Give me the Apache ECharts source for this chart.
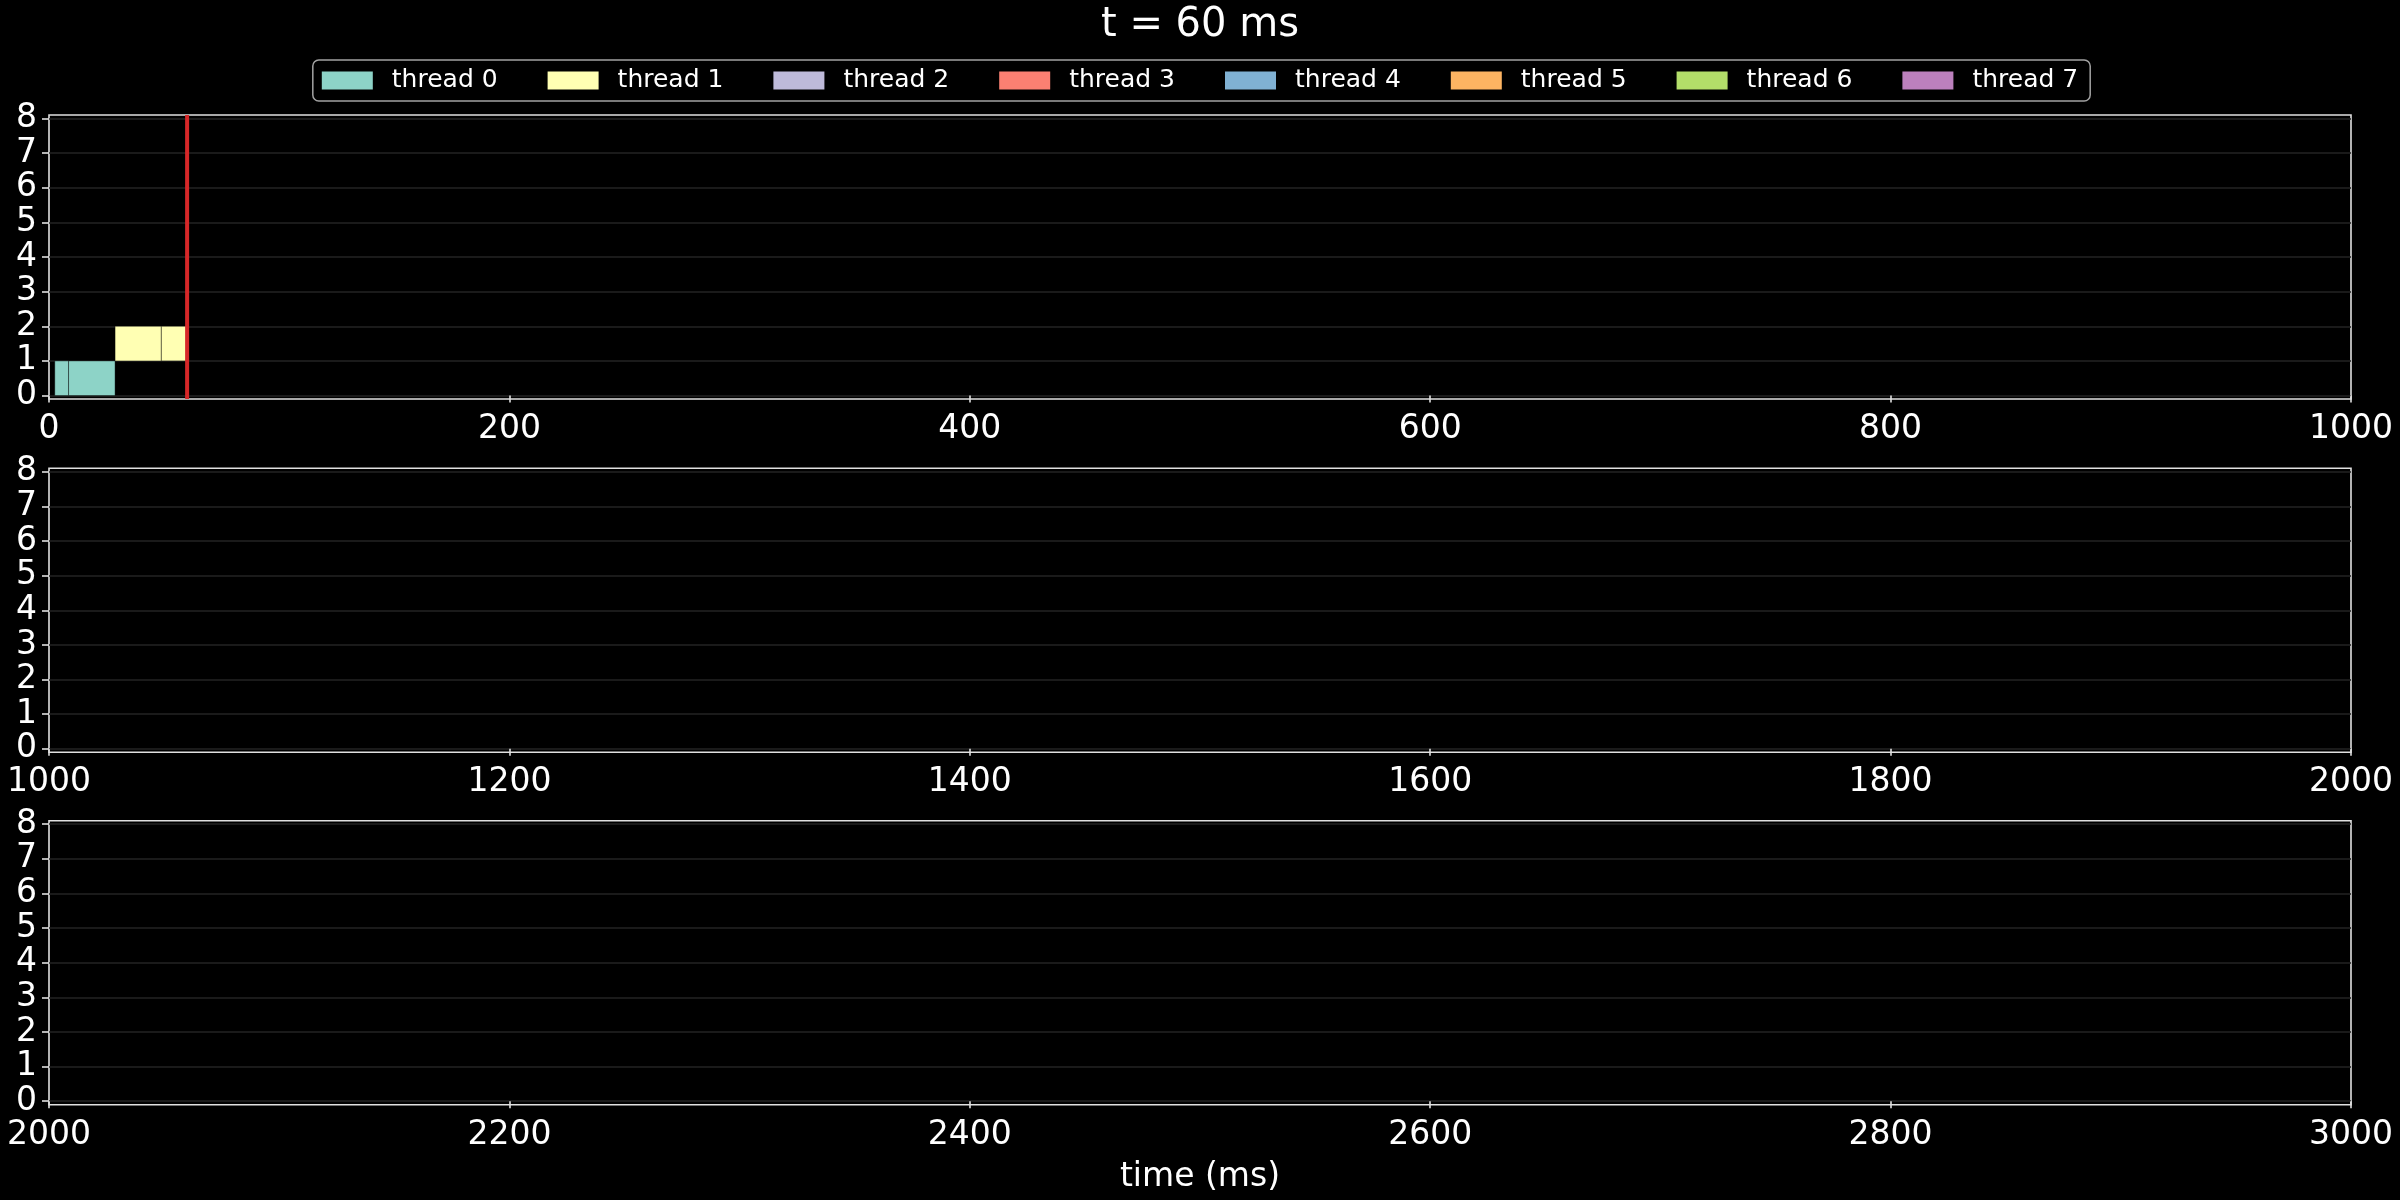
<!DOCTYPE html>
<html>
<head>
<meta charset="utf-8">
<script src="https://cdn.jsdelivr.net/npm/echarts@6/dist/echarts.min.js"></script>
<style>
html,body{margin:0;padding:0;background:#000;}
#chart{width:2400px;height:1200px;}
</style>
</head>
<body>
<div id="chart"></div>
<script>
// ---- data ----
const threadNames = ['thread 0','thread 1','thread 2','thread 3','thread 4','thread 5','thread 6','thread 7'];
const segThread = [0, 0, 1, 1];
const segRow    = [0, 0, 1, 1];
const segStart  = [2.5, 8.5, 28.7, 48.8];
const segEnd    = [8.5, 28.7, 48.8, 60];
const currentTime = 60;
const panelStarts = [0, 1000, 2000];
const panelSpan = 1000;
const xTickStep = 200;
const yTicks = [0, 1, 2, 3, 4, 5, 6, 7, 8];
const yMin = -0.1, yMax = 8.1;

// ---- style ----
const threadColors = ['#8dd3c7','#ffffb3','#bebada','#fb8072','#80b1d3','#fdb462','#b3de69','#bc80bd'];
const FONT = 'DejaVu Sans';
const gridTops = [115, 468.3, 820.7];
const gridH = 284;

const grids = [], xAxes = [], yAxes = [], series = [];
panelStarts.forEach((p0, pi) => {
  grids.push({left: 49, width: 2302, top: gridTops[pi], height: gridH, show: true,
    borderColor: '#e0e0e0', borderWidth: 1.6, backgroundColor: 'transparent'});
  xAxes.push({
    type: 'value', gridIndex: pi, min: p0, max: p0 + panelSpan, interval: xTickStep,
    axisLine: {show: false},
    axisTick: {show: true, length: 7, lineStyle: {color: '#e0e0e0', width: 1.6}},
    axisLabel: {color: '#fff', fontSize: 33, fontFamily: FONT, margin: 14,
      formatter: function (v) { return String(v); }},
    splitLine: {show: false},
    name: pi === panelStarts.length - 1 ? 'time (ms)' : '',
    nameLocation: 'middle', nameGap: 56,
    nameTextStyle: {color: '#fff', fontSize: 33, fontFamily: FONT}
  });
  yAxes.push({
    type: 'value', gridIndex: pi, min: yMin, max: yMax,
    axisLine: {show: false},
    axisTick: {show: true, length: 7, customValues: yTicks, lineStyle: {color: '#e0e0e0', width: 1.6}},
    axisLabel: {customValues: yTicks, color: '#fff', fontSize: 33, fontFamily: FONT, margin: 12,
      formatter: function (v) { return String(v); }},
    splitLine: {show: true, lineStyle: {color: '#232323', width: 1.5}}
  });
  threadNames.forEach((name, ti) => {
    const data = [];
    for (let k = 0; k < segStart.length; k++) {
      if (segThread[k] !== ti) continue;
      const s = Math.max(segStart[k], p0), e = Math.min(segEnd[k], p0 + panelSpan);
      if (e > s) data.push([s, e, segRow[k]]);
    }
    series.push({
      type: 'custom', name: name, xAxisIndex: pi, yAxisIndex: pi,
      itemStyle: {color: threadColors[ti]},
      encode: {x: [0, 1], y: 2},
      data: data,
      renderItem: function (params, api) {
        const a = api.coord([api.value(0), api.value(2) + 1]);
        const b = api.coord([api.value(1), api.value(2)]);
        return {type: 'rect',
          shape: {x: a[0], y: a[1], width: b[0] - a[0], height: b[1] - a[1]},
          style: {fill: threadColors[ti], stroke: 'rgba(0,0,0,0.4)', lineWidth: 1}};
      }
    });
  });
  if (currentTime >= p0 && currentTime <= p0 + panelSpan) {
    series.push({
      type: 'custom', name: 'now', xAxisIndex: pi, yAxisIndex: pi, z: 10,
      data: [[currentTime]], encode: {x: 0},
      renderItem: function (params, api) {
        const a = api.coord([api.value(0), yMin]);
        const b = api.coord([api.value(0), yMax]);
        return {type: 'line', shape: {x1: a[0], y1: a[1], x2: b[0], y2: b[1]},
          style: {stroke: '#d62728', lineWidth: 4}};
      }
    });
  }
});

const chart = echarts.init(document.getElementById('chart'), null, {renderer: 'canvas'});
chart.setOption({
  backgroundColor: '#000',
  animation: false,
  title: {text: 't = ' + currentTime + ' ms', left: 'center', top: 1,
    textStyle: {color: '#fff', fontSize: 40, fontWeight: 'normal', fontFamily: FONT}},
  legend: {data: threadNames, top: 60, left: 'center', icon: 'rect',
    itemWidth: 51, itemHeight: 18, itemGap: 50,
    textStyle: {color: '#fff', fontSize: 25, fontFamily: FONT, padding: [0, 0, 0, 14]},
    borderColor: '#a3a3a3', borderWidth: 1.5, borderRadius: 6,
    padding: [8, 12, 8, 9], backgroundColor: '#000'},
  grid: grids, xAxis: xAxes, yAxis: yAxes, series: series
});
</script>
</body>
</html>
